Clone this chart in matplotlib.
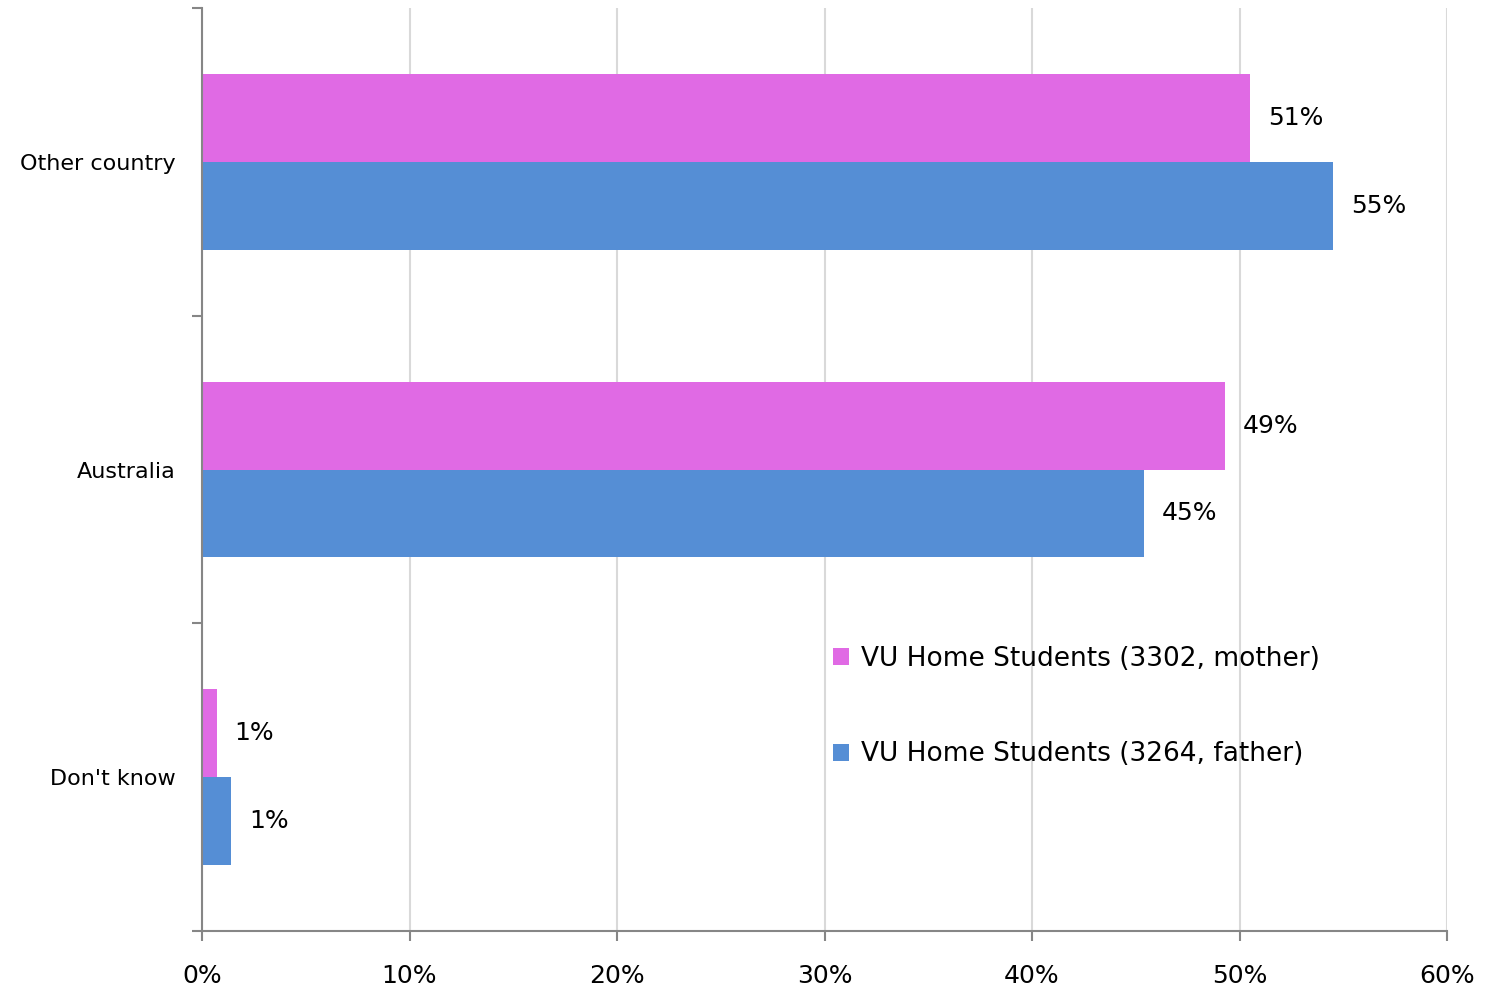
import matplotlib
matplotlib.use("Agg")
import matplotlib.pyplot as plt
import numpy as np

# data (percent)
categories = ["Don't know", "Australia", "Other country"]
mother = [0.7, 49.3, 50.5]
father = [1.4, 45.4, 54.5]
mother_labels = ["1%", "49%", "51%"]
father_labels = ["1%", "45%", "55%"]
series_names = ["VU Home Students (3302, mother)", "VU Home Students (3264, father)"]
xticks = [0, 10, 20, 30, 40, 50, 60]

plt.rcParams["font.family"] = ["DejaVu Sans"]

fig = plt.figure(figsize=(14.89, 9.94), dpi=100)
ax = fig.add_axes([202 / 1489, 1 - 931 / 994, 1245 / 1489, 923 / 994])

y = np.arange(len(categories))
h = 0.286
mother_color = "#E06AE4"
father_color = "#558ED5"

b1 = ax.barh(y + h / 2, mother, height=h, color=mother_color, label=series_names[0], zorder=3)
b2 = ax.barh(y - h / 2, father, height=h, color=father_color, label=series_names[1], zorder=3)

for bars, labels in ((b1, mother_labels), (b2, father_labels)):
    for rect, lab in zip(bars, labels):
        ax.annotate(lab, (rect.get_width(), rect.get_y() + rect.get_height() / 2),
                    xytext=(13, 0), textcoords="offset points",
                    ha="left", va="center", fontsize=18, color="black")

ax.set_xlim(0, 60)
ax.set_ylim(-0.5, 2.5)
ax.set_xticks(xticks)
ax.set_xticklabels([f"{t}%" for t in xticks], fontsize=18)
ax.set_yticks(y)
ax.set_yticklabels(categories, fontsize=16)
ax.set_yticks([-0.5, 0.5, 1.5, 2.5], minor=True)
ax.tick_params(axis="y", which="major", length=0, pad=19)
ax.tick_params(axis="y", which="minor", length=7, width=1.5, color="#868686")
ax.tick_params(axis="x", length=7, width=1.5, color="#868686", pad=17)

ax.grid(axis="x", color="#d9d9d9", linewidth=1.5, zorder=0)
for s in ("top", "right"):
    ax.spines[s].set_visible(False)
for s in ("left", "bottom"):
    ax.spines[s].set_color("#868686")
    ax.spines[s].set_linewidth(1.5)
    ax.spines[s].set_zorder(4)

ax.legend(loc="upper left", bbox_to_anchor=(0.488, 0.335), frameon=False,
          fontsize=19, handlelength=0.6, handleheight=0.6, handletextpad=0.45,
          labelspacing=2.65)

fig.savefig("out.png", dpi=100)
